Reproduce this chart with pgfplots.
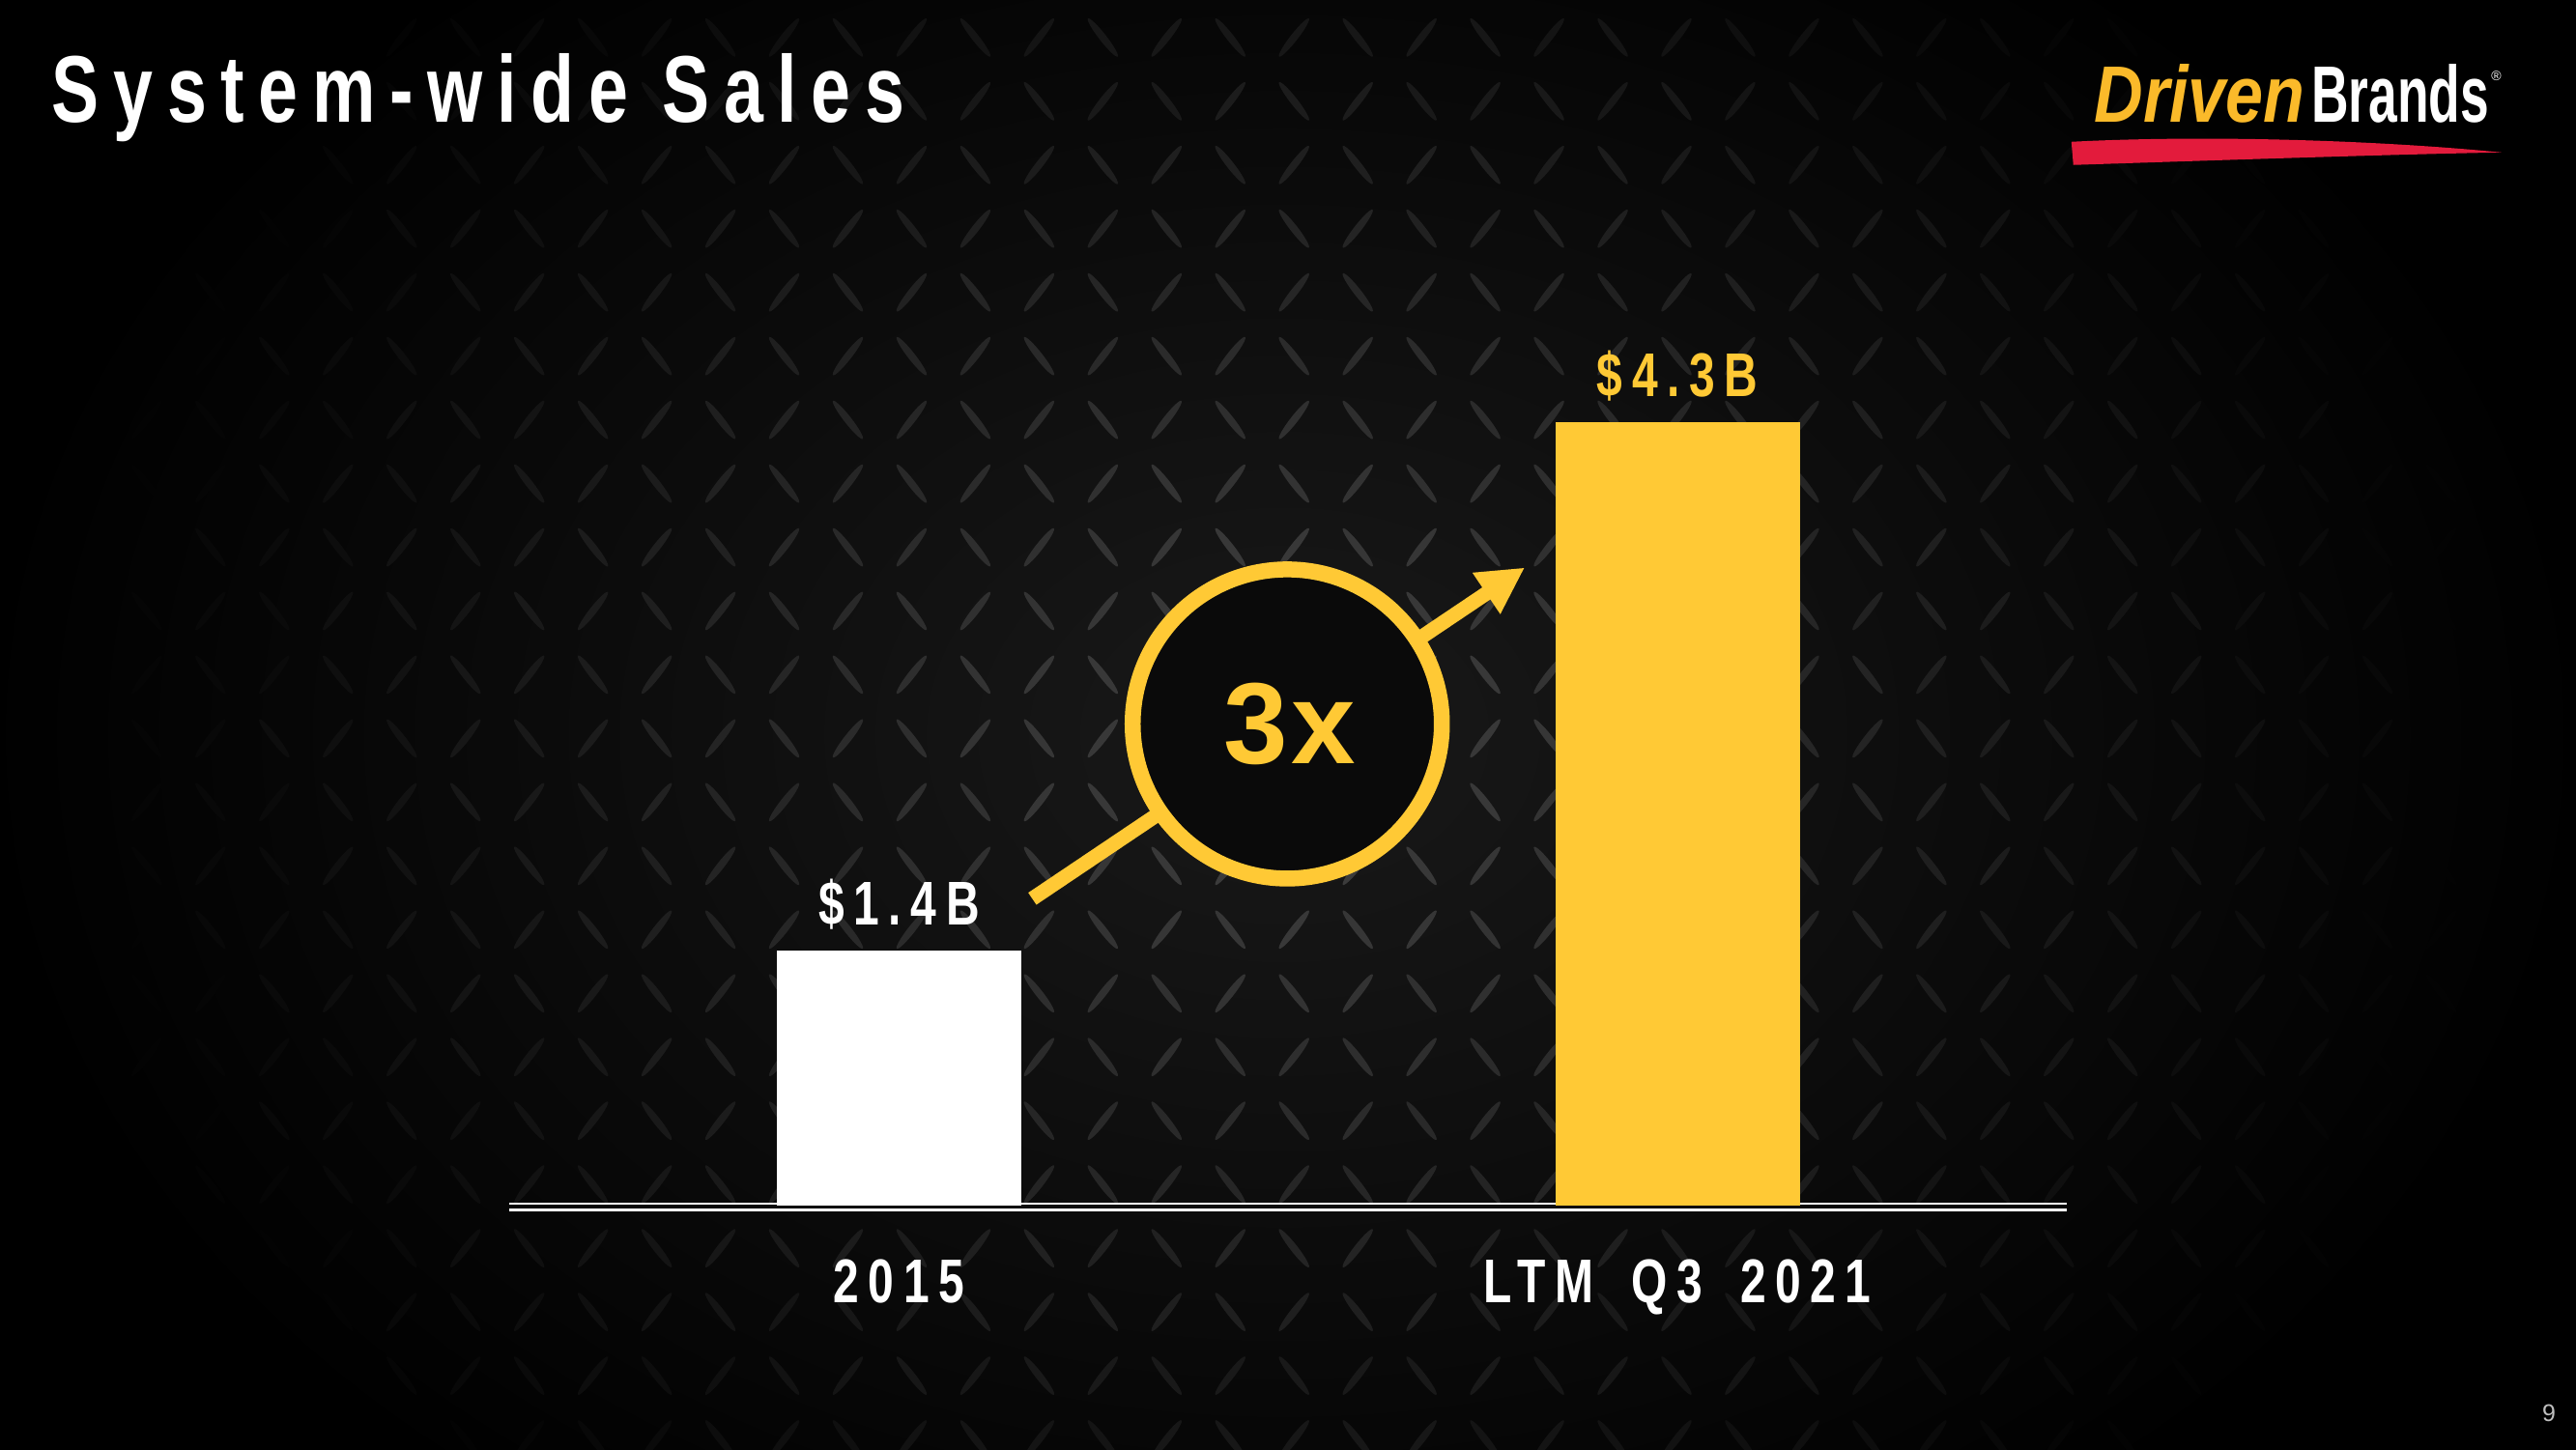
\documentclass[border=0pt]{standalone}
\usepackage{fontspec}
\usepackage{graphicx}
\usepackage{pgfplots}
\pgfplotsset{compat=1.18}
\usetikzlibrary{arrows.meta}
\setmainfont{Liberation Sans}
\newfontfamily\cnd[FakeStretch=0.75,LetterSpace=15]{Liberation Sans Bold}
\newfontfamily\boldsp[LetterSpace=3]{Liberation Sans Bold}
\newfontfamily\boldf{Liberation Sans Bold}
\newfontfamily\boldit{Liberation Sans Bold Italic}
\definecolor{dbyellow}{HTML}{FFC935}
\definecolor{logoyellow}{HTML}{FBBA2A}
\definecolor{logored}{HTML}{E31B3C}
\definecolor{pagegray}{HTML}{BFBFBF}
\begin{document}
\begin{tikzpicture}
\useasboundingbox (0,0) rectangle (26.66cm,15cm);
% ---------- background (1 unit = 1 px of the 2666x1500 reference, y up)
\begin{scope}[x=0.01cm,y=0.01cm]
\fill[black] (-30,-30) rectangle (2696,1530);
\shade[inner color=white!10!black, outer color=black] (1330,740) ellipse [x radius=13.5cm, y radius=10cm];
\foreach \i in {0,...,41}{
  \foreach \j in {0,...,23}{
    \pgfmathsetmacro\cx{\i*66+20}
    \pgfmathsetmacro\cy{\j*66+10}
    \pgfmathsetmacro\dd{sqrt(((\cx-1330)/1150)^2+((\cy-740)/1000)^2)}
    \pgfmathtruncatemacro\lv{max(0,min(1,1.12-\dd))*24}
    \pgfmathtruncatemacro\pp{mod(\i+\j,2)}
    \ifnum\pp=0 \def\ang{52}\else\def\ang{-52}\fi
    \ifnum\lv>0
      \fill[white!\lv!black, rotate around={\ang:(\cx,\cy)}] (\cx,\cy) ellipse [x radius=0.25cm, y radius=0.038cm];
    \fi
  }
}
% baseline double rule
\fill[white] (527,252.8) rectangle (2140,255.5);
\fill[white] (527,246.6) rectangle (2140,249.4);
\end{scope}

% ---------- the chart
\begin{axis}[
  at={(5.2775cm,2.52cm)}, anchor=south west, scale only axis,
  width=16.11cm, height=9.425cm,
  xmin=-0.5, xmax=1.5, ymin=0, ymax=5,
  axis line style={draw=none}, major tick length=0pt,
  ytick=\empty, xtick={0,1},
  xticklabels={2015,{LTM\hspace{0.16cm} Q3\hspace{0.16cm} 2021}},
  xticklabel style={anchor=base, inner sep=0pt, yshift=-1cm,
    font=\cnd\fontsize{18.2}{20}\selectfont, text=white},
  ybar, bar width=2.53cm, bar shift=0pt,
  clip=false,
  point meta=explicit symbolic,
  nodes near coords,
  every node near coord/.append style={anchor=base, inner sep=0pt, yshift=0.27cm,
    font=\cnd\fontsize{18.2}{20}\selectfont},
]
\addplot[fill=white, draw=none, every node near coord/.append style={text=white}]
  coordinates {(0,1.4) [\$1.4B]};
\addplot[fill=dbyellow, draw=none, every node near coord/.append style={text=dbyellow}]
  coordinates {(1,4.3) [\$4.3B]};
\end{axis}

% ---------- growth arrow, circle and annotations
\begin{scope}[x=0.01cm,y=0.01cm]
\draw[dbyellow, line width=0.15cm, -{Triangle[length=0.48cm,width=0.48cm]}] (1069,570) -- (1579,913);
\draw[dbyellow, line width=0.165cm, fill=white!4!black] (1333,751) circle [radius=1.6cm];
\node[anchor=base, inner sep=0pt, text=dbyellow, font=\boldsp\fontsize{34}{36}\selectfont] at (1336,710) {3x};

% title
\node[anchor=base west, inner sep=0pt, text=white, font=\cnd\fontsize{27.9}{30}\selectfont] at (53,1374) {System-wide Sales};

% logo
\node[anchor=base west, inner sep=0pt, text=logoyellow] at (2168,1374) {\resizebox{2.18cm}{0.6cm}{\boldit Driven}};
\node[anchor=base west, inner sep=0pt, text=white] at (2393,1374) {\resizebox{1.84cm}{0.6cm}{\boldf Brands}};
\node[anchor=center, inner sep=0pt, text=white, font=\fontsize{4}{5}\selectfont] at (2585,1422) {®};
\fill[logored] (2147,1330) -- (2145,1354) .. controls (2300,1362) and (2480,1354) .. (2590,1343)
  .. controls (2480,1341) and (2300,1335) .. (2147,1330) -- cycle;

% page number
\node[anchor=base west, inner sep=0pt, text=pagegray, font=\fontsize{7.1}{8}\selectfont] at (2632,29) {9};
\end{scope}
\end{tikzpicture}
\end{document}
